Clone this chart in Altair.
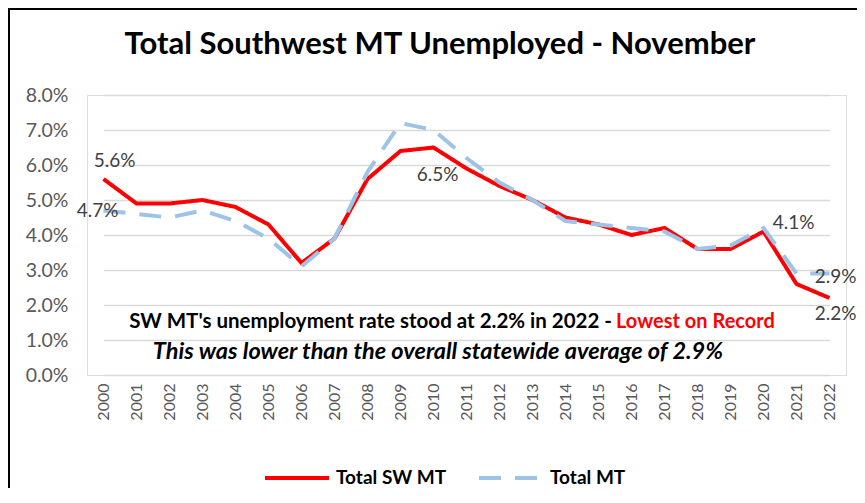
import altair as alt
import pandas as pd

years = [str(y) for y in range(2000, 2023)]
sw_mt = [5.6, 4.9, 4.9, 5.0, 4.8, 4.3, 3.2, 3.9, 5.6, 6.4, 6.5, 5.9, 5.4, 5.0,
         4.5, 4.3, 4.0, 4.2, 3.6, 3.6, 4.1, 2.6, 2.2]
total_mt = [4.7, 4.6, 4.5, 4.7, 4.4, 3.9, 3.1, 3.9, 5.8, 7.2, 7.0, 6.2, 5.5, 5.0,
            4.4, 4.3, 4.2, 4.1, 3.6, 3.7, 4.2, 2.9, 2.9]
series_names = ["Total SW MT", "Total MT"]
y_ticks = [0, 1, 2, 3, 4, 5, 6, 7, 8]

title_text = "Total Southwest MT Unemployed - November"
note_1a = "SW MT's unemployment rate stood at 2.2% in 2022 - "
note_1b = "Lowest on Record"
note_2 = "This was lower than the overall statewide average of 2.9%"

rows = []
for name, vals in zip(series_names, [sw_mt, total_mt]):
    for yr, v in zip(years, vals):
        rows.append({"year": yr, "value": v, "series": name})
df = pd.DataFrame(rows)

FONT = "Lato"
W, H = 759, 280

legend = alt.Legend(
    title=None, orient="none", legendX=176, legendY=349, direction="horizontal",
    symbolType="stroke", symbolSize=4096, symbolStrokeWidth=4,
    labelFont=FONT, labelFontSize=19, labelFontWeight="bold", labelColor="#000000",
    columnPadding=24, labelOffset=5,
)

x_scale = alt.Scale(type="point", domain=years, padding=0, range=[16.5, 742.5])
y_scale = alt.Scale(domain=[0, 8], nice=False)
x_axis = alt.Axis(labelAngle=-90, labelFont=FONT, labelFontSize=16,
                  labelColor="#595959", labelPadding=8, ticks=False,
                  domain=False, grid=False)
y_axis = alt.Axis(values=y_ticks, labelExpr="format(datum.value,'.1f')+'%'",
                  labelFont=FONT, labelFontSize=19.5, labelColor="#595959",
                  labelPadding=19, ticks=False, domain=False, labelOverlap=False,
                  gridColor="#D9D9D9", gridWidth=1.5)

base = alt.Chart(df)

lines = base.mark_line(strokeWidth=4).encode(
    x=alt.X("year:N", scale=x_scale, title=None, axis=x_axis),
    y=alt.Y("value:Q", title=None, scale=y_scale, axis=y_axis),
    color=alt.Color("series:N", sort=series_names,
                    scale=alt.Scale(domain=series_names, range=["#FF0000", "#9DC3E6"]),
                    legend=legend),
    strokeDash=alt.StrokeDash("series:N", sort=series_names,
                              scale=alt.Scale(domain=series_names, range=[[1, 0], [22, 14]]),
                              legend=legend),
    order=alt.Order("year:N"),
)

label_specs = [
    ("2000", "Total SW MT", 11, -18),
    ("2000", "Total MT", -6, 0),
    ("2010", "Total SW MT", 4, 27),
    ("2020", "Total SW MT", 30, -9),
    ("2022", "Total MT", 6, 3),
    ("2022", "Total SW MT", 6, 16),
]
label_layers = []
for yr, ser, dx, dy in label_specs:
    label_layers.append(
        base.transform_filter(
            (alt.datum.year == yr) & (alt.datum.series == ser)
        ).transform_calculate(
            lab="format(datum.value,'.1f')+'%'"
        ).mark_text(font=FONT, fontSize=19, color="#404040", dx=dx, dy=dy,
                    align="center", baseline="middle").encode(
            x=alt.X("year:N", scale=x_scale, title=None, axis=x_axis),
            y=alt.Y("value:Q", scale=y_scale, title=None, axis=y_axis),
            text="lab:N",
        )
    )

one = alt.Chart(pd.DataFrame({"a": [0]}))

title = one.mark_text(font=FONT, fontSize=31, fontWeight="bold", color="#000000",
                      align="center", baseline="middle").encode(
    x=alt.value(353), y=alt.value(-50), text=alt.value(title_text))

n1a = one.mark_text(font=FONT, fontSize=20.5, fontWeight="bold", color="#000000",
                    align="right", baseline="middle").encode(
    x=alt.value(525), y=alt.value(227), text=alt.value(note_1a))
n1b = one.mark_text(font=FONT, fontSize=20, fontWeight="bold", color="#FF0000",
                    align="left", baseline="middle").encode(
    x=alt.value(529), y=alt.value(227), text=alt.value(note_1b))
n2 = one.mark_text(font=FONT, fontSize=23.5, fontWeight="bold", fontStyle="italic",
                   color="#000000", align="center", baseline="middle").encode(
    x=alt.value(351), y=alt.value(257), text=alt.value(note_2))

frame_top = one.mark_rule(color="#000000", strokeWidth=2).encode(
    x=alt.value(-79), x2=alt.value(770), y=alt.value(-86))
frame_left = one.mark_rule(color="#000000", strokeWidth=2).encode(
    x=alt.value(-78), y=alt.value(-87), y2=alt.value(400))

chart = alt.layer(lines, *label_layers, title, n1a, n1b, n2, frame_top, frame_left).properties(
    width=W, height=H,
    autosize=alt.AutoSizeParams(type="none"),
    padding={"left": 79, "top": 87, "right": 11, "bottom": 113},
).configure_view(strokeWidth=0).configure(background="#FFFFFF")

chart.save("out.html", embed_options={"renderer": "svg", "actions": False})
